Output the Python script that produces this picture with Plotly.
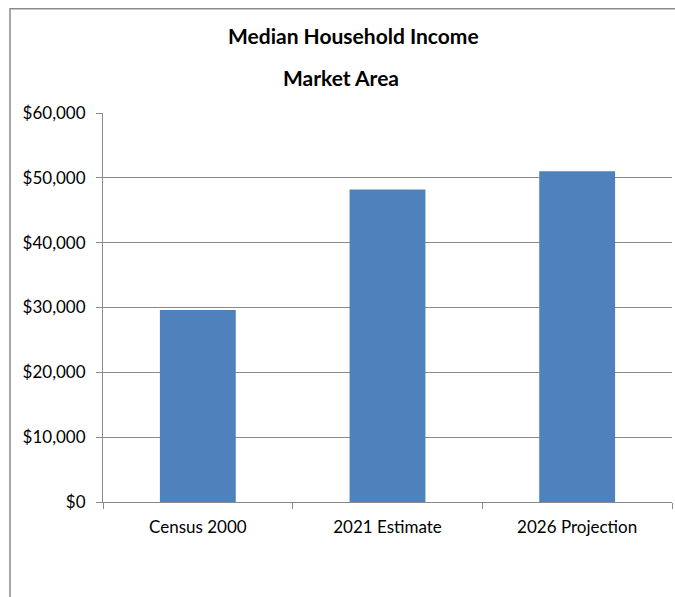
import plotly.graph_objects as go

categories = ["Census 2000", "2021 Estimate", "2026 Projection"]
values = [29600, 48200, 51000]
tick_vals = [0, 10000, 20000, 30000, 40000, 50000, 60000]
tick_text = ["$0", "$10,000", "$20,000", "$30,000", "$40,000", "$50,000", "$60,000"]
title = "Median Household Income"
subtitle = "Market Area"

W, H = 675, 597
L, R, T, B = 103, 3, 112.5, 94.5
pw = W - L - R
ph = H - T - B

def px2x(px):
    return (px - L) / pw

def py2y(py):
    return (H - B - py) / ph

FONT = "Lato, Carlito, Calibri, sans-serif"
GRAY = "#8a8a8a"

fig = go.Figure(go.Bar(
    x=categories, y=values, marker=dict(color="#4F81BD", line=dict(width=0)),
    width=0.4,
))

fig.update_layout(
    width=W, height=H,
    margin=dict(l=L, r=R, t=T, b=B),
    paper_bgcolor="white", plot_bgcolor="white",
    showlegend=False,
    font=dict(family=FONT, color="black"),
    xaxis=dict(
        type="category", showgrid=False, showline=True, linecolor=GRAY, linewidth=1,
        ticks="outside", tickson="boundaries", ticklen=6, tickcolor=GRAY,
        tickfont=dict(size=17, family=FONT, color="black"),
        ticklabelstandoff=10,
    ),
    yaxis=dict(
        range=[0, 60000], tickvals=tick_vals, ticktext=tick_text,
        showgrid=True, gridcolor=GRAY, gridwidth=1,
        showline=True, linecolor=GRAY, linewidth=1,
        ticks="outside", ticklen=6, tickcolor=GRAY,
        tickfont=dict(size=17, family=FONT, color="black"),
        ticklabelstandoff=7,
        zeroline=False,
    ),
    annotations=[
        dict(text="<b>" + title + "</b>", xref="paper", yref="paper",
             x=px2x(353), y=py2y(35), xanchor="center", yanchor="middle",
             showarrow=False, font=dict(size=21, family=FONT, color="black")),
        dict(text="<b>" + subtitle + "</b>", xref="paper", yref="paper",
             x=px2x(341), y=py2y(77), xanchor="center", yanchor="middle",
             showarrow=False, font=dict(size=21, family=FONT, color="black")),
    ],
    shapes=[
        dict(type="rect", xref="paper", yref="paper",
             x0=px2x(10), x1=px2x(690), y0=py2y(620), y1=py2y(8),
             line=dict(color=GRAY, width=1.5), fillcolor="rgba(0,0,0,0)", layer="above"),
    ],
)

post = ("document.body.style.margin='0';"
        "document.body.style.overflow='hidden';")

fig.write_html("out.html", post_script=post,
               config={"responsive": False, "displayModeBar": False})
